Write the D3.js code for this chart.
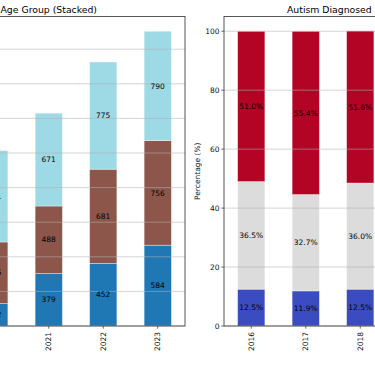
<html>
<head>
<script src="https://d3js.org/d3.v7.min.js"></script>
<style>
  body { margin: 0; background: white; }
  text { font-family: "DejaVu Sans", sans-serif; }
</style>
</head>
<body>
<div id="chart_area"></div>
<script>
    // left chart: diagnoses by age group (only the visible years)
    let ageYears = ["2020", "2021", "2022", "2023"];
    let ageYoung  = [162, 379, 452, 584];
    let ageMiddle = [445, 488, 681, 756];
    let ageOlder  = [661, 671, 775, 790];
    let ageColors = ["#1f77b4", "#8c564b", "#9edae5"];
    let ageTicks = [0, 250, 500, 750, 1000, 1250, 1500, 1750, 2000];

    // right chart: percentages
    let pctYears = ["2016", "2017", "2018"];
    let pctLow  = [12.5, 11.9, 12.5];
    let pctMid  = [36.5, 32.7, 36.0];
    let pctHigh = [51.0, 55.4, 51.6];
    let pctColors = ["#3b4cc0", "#dddcdc", "#b40426"];
    let pctTicks = [0, 20, 40, 60, 80, 100];

    let width = 375, height = 366;
    let svg = d3.select("#chart_area").append("svg")
        .attr("width", width)
        .attr("height", height);

    let plotTop = 16.5, plotBottom = 326;

    function drawStack(opts) {
        let g = svg.append("g");
        let x = d3.scaleBand()
            .domain(opts.years)
            .range(opts.xrange)
            .paddingInner(0.5)
            .paddingOuter(0.25);
        let y = d3.scaleLinear().domain([0, opts.ymax]).range([plotBottom, plotTop]);

        let rows = opts.years.map((yr, i) => {
            let r = {year: yr};
            opts.series.forEach((s, k) => r["s" + k] = s[i]);
            return r;
        });
        let keys = opts.series.map((_, k) => "s" + k);
        let stacked = d3.stack().keys(keys)(rows);

        stacked.forEach((layer, k) => {
            g.selectAll(".bar" + k)
                .data(layer)
                .join("rect")
                .attr("class", "bar" + k)
                .attr("x", d => x(d.data.year))
                .attr("width", x.bandwidth())
                .attr("y", d => y(d[1]))
                .attr("height", d => y(d[0]) - y(d[1]))
                .attr("fill", opts.colors[k])
                .attr("stroke", "white")
                .attr("stroke-opacity", 0.6)
                .attr("stroke-width", 0.6);
        });

        // grid on top of bars
        g.selectAll(".grid")
            .data(opts.ticks)
            .join("line")
            .attr("class", "grid")
            .attr("x1", opts.xrange[0])
            .attr("x2", opts.xrange[1])
            .attr("y1", d => y(d))
            .attr("y2", d => y(d))
            .attr("stroke", "#b0b0b0")
            .attr("stroke-opacity", 0.55)
            .attr("stroke-width", 1);

        // bar labels
        stacked.forEach((layer, k) => {
            g.selectAll(".lab" + k)
                .data(layer)
                .join("text")
                .attr("class", "lab" + k)
                .attr("x", d => x(d.data.year) + x.bandwidth() / 2)
                .attr("y", d => (y(d[0]) + y(d[1])) / 2 + 2.7)
                .attr("text-anchor", "middle")
                .attr("font-size", "7.5px")
                .attr("fill", "#000")
                .text(d => opts.fmt(d[1] - d[0]));
        });

        // frame
        g.append("rect")
            .attr("x", opts.xrange[0])
            .attr("y", plotTop)
            .attr("width", opts.xrange[1] - opts.xrange[0])
            .attr("height", plotBottom - plotTop)
            .attr("fill", "none")
            .attr("stroke", "#444")
            .attr("stroke-width", 0.9);

        // x ticks
        let xt = g.selectAll(".xt").data(opts.years).join("g")
            .attr("class", "xt")
            .attr("transform", d => `translate(${x(d) + x.bandwidth() / 2},${plotBottom})`);
        xt.append("line").attr("y2", 2.7).attr("stroke", "#444").attr("stroke-width", 0.8);
        xt.append("text")
            .attr("transform", "translate(2.6,6) rotate(-90)")
            .attr("text-anchor", "end")
            .attr("font-size", "7.5px")
            .attr("fill", "#111")
            .text(d => d);

        return {g: g, x: x, y: y};
    }

    let ageChart = drawStack({
        years: ageYears,
        series: [ageYoung, ageMiddle, ageOlder],
        colors: ageColors,
        xrange: [-33, 185],
        ymax: 2236.5,
        ticks: ageTicks,
        fmt: v => d3.format("d")(v)
    });

    let pctChart = drawStack({
        years: pctYears,
        series: [pctLow, pctMid, pctHigh],
        colors: pctColors,
        xrange: [224, 387.5],
        ymax: 105,
        ticks: pctTicks,
        fmt: v => d3.format(".1f")(v) + "%"
    });

    // y ticks on the right chart
    let yt = pctChart.g.selectAll(".yt").data(pctTicks).join("g")
        .attr("class", "yt")
        .attr("transform", d => `translate(224,${pctChart.y(d)})`);
    yt.append("line").attr("x2", -2.7).attr("stroke", "#444").attr("stroke-width", 0.8);
    yt.append("text")
        .attr("x", -4.5)
        .attr("y", 2.7)
        .attr("text-anchor", "end")
        .attr("font-size", "7.5px")
        .attr("fill", "#111")
        .text(d => d);

    svg.append("text")
        .attr("transform", `translate(200,${(plotTop + plotBottom) / 2}) rotate(-90)`)
        .attr("text-anchor", "middle")
        .attr("font-size", "7.5px")
        .attr("fill", "#111")
        .text("Percentage (%)");

    // titles
    svg.append("text")
        .attr("x", 97)
        .attr("y", 12.5)
        .attr("text-anchor", "end")
        .attr("font-size", "9.3px")
        .attr("fill", "#000")
        .text("Autism Diagnoses by Age Group (Stacked)");

    svg.append("text")
        .attr("x", 287)
        .attr("y", 12.5)
        .attr("font-size", "9.3px")
        .attr("fill", "#000")
        .text("Autism Diagnosed Percentage by Group");
</script>
</body>
</html>
